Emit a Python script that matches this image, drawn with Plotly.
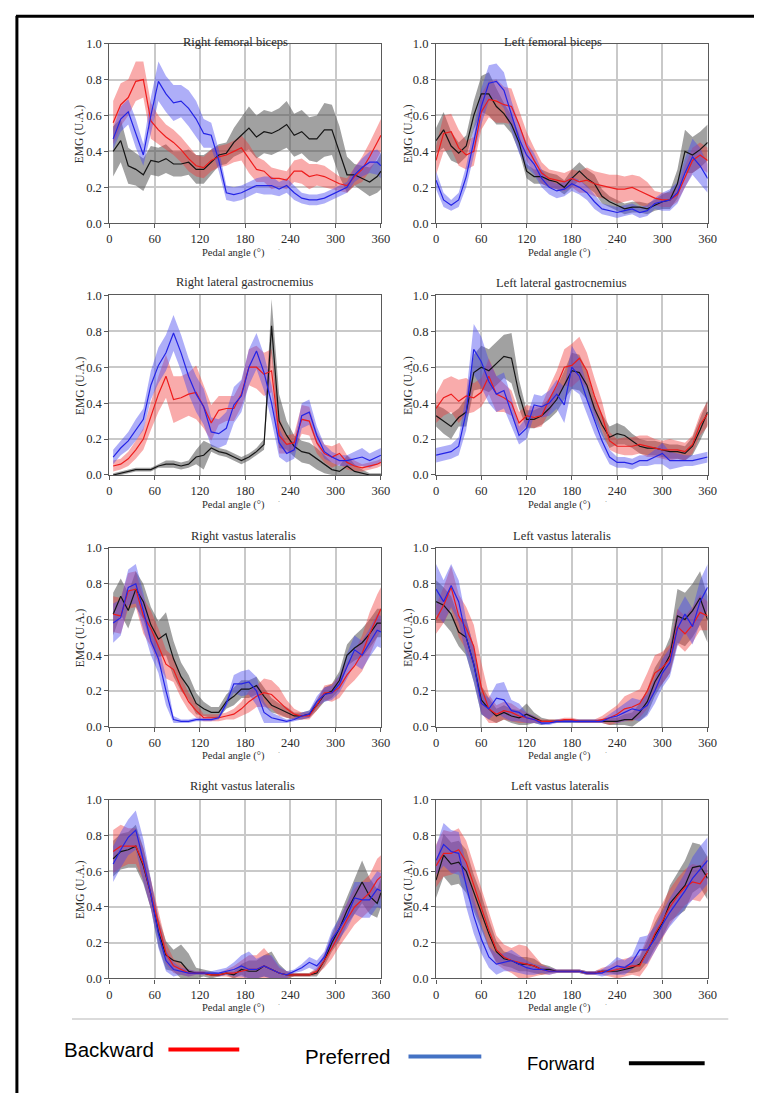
import plotly.graph_objects as go

# ---------------- data ----------------
X_RIGHT = [5, 15, 25, 35, 45, 55, 65, 75, 85, 95, 105, 115, 125, 135, 145, 155, 165, 175, 185,
           195, 205, 215, 225, 235, 245, 255, 265, 275, 285, 295, 305, 315, 325, 335, 345, 355, 360]
X_LEFT = [0, 10, 20, 30, 40, 50, 60, 70, 80, 90, 100, 110, 120, 130, 140, 150, 160, 170, 180,
          190, 200, 210, 220, 230, 240, 250, 260, 270, 280, 290, 300, 310, 320, 330, 340, 350, 360]

TITLES = ["Right femoral biceps", "Left femoral biceps",
          "Right lateral gastrocnemius", "Left lateral gastrocnemius",
          "Right vastus lateralis", "Left vastus lateralis",
          "Right vastus lateralis", "Left vastus lateralis"]

X_TICKS = [0, 60, 120, 180, 240, 300, 360]
Y_TICKS = [0.0, 0.2, 0.4, 0.6, 0.8, 1.0]

# Panel 1: Right femoral biceps
RFB_BACK = [0.56, 0.66, 0.70, 0.79, 0.80, 0.57, 0.52, 0.48, 0.45, 0.41, 0.36, 0.32, 0.31, 0.35, 0.37, 0.38, 0.40, 0.42, 0.36,
            0.30, 0.29, 0.25, 0.25, 0.24, 0.29, 0.29, 0.26, 0.27, 0.26, 0.24, 0.22, 0.21, 0.26, 0.30, 0.37, 0.45, 0.49]
RFB_BACK_SD = [0.12, 0.12, 0.10, 0.11, 0.10, 0.10, 0.08, 0.07, 0.07, 0.07, 0.07, 0.06, 0.06, 0.06, 0.06, 0.06, 0.06, 0.07, 0.08,
               0.07, 0.06, 0.06, 0.05, 0.05, 0.06, 0.07, 0.07, 0.06, 0.06, 0.05, 0.04, 0.04, 0.05, 0.07, 0.08, 0.09, 0.09]
RFB_PREF = [0.47, 0.58, 0.62, 0.50, 0.38, 0.60, 0.79, 0.72, 0.67, 0.68, 0.64, 0.58, 0.50, 0.49, 0.35, 0.17, 0.16, 0.17, 0.19,
            0.21, 0.21, 0.21, 0.19, 0.21, 0.17, 0.14, 0.13, 0.13, 0.14, 0.16, 0.18, 0.20, 0.27, 0.31, 0.34, 0.34, 0.32]
RFB_PREF_SD = [0.06, 0.07, 0.07, 0.08, 0.06, 0.10, 0.11, 0.10, 0.10, 0.09, 0.10, 0.10, 0.08, 0.07, 0.06, 0.04, 0.04, 0.04, 0.04,
               0.04, 0.05, 0.05, 0.04, 0.04, 0.04, 0.03, 0.03, 0.03, 0.03, 0.03, 0.03, 0.03, 0.04, 0.05, 0.06, 0.07, 0.07]
RFB_FWD = [0.40, 0.46, 0.32, 0.30, 0.27, 0.35, 0.34, 0.36, 0.33, 0.33, 0.34, 0.30, 0.30, 0.34, 0.38, 0.39, 0.45, 0.49, 0.53,
           0.48, 0.51, 0.50, 0.52, 0.55, 0.49, 0.51, 0.47, 0.47, 0.52, 0.52, 0.40, 0.27, 0.27, 0.25, 0.23, 0.26, 0.29]
RFB_FWD_SD = [0.14, 0.12, 0.10, 0.09, 0.09, 0.08, 0.08, 0.08, 0.07, 0.07, 0.07, 0.08, 0.08, 0.07, 0.06, 0.06, 0.08, 0.10, 0.12,
              0.12, 0.12, 0.12, 0.12, 0.13, 0.12, 0.12, 0.12, 0.13, 0.15, 0.14, 0.14, 0.10, 0.06, 0.07, 0.08, 0.09, 0.10]

# Panel 2: Left femoral biceps
LFB_BACK = [0.35, 0.50, 0.51, 0.42, 0.38, 0.40, 0.62, 0.69, 0.68, 0.66, 0.65, 0.55, 0.43, 0.35, 0.28, 0.25, 0.24, 0.23, 0.25,
            0.23, 0.24, 0.22, 0.21, 0.20, 0.19, 0.19, 0.20, 0.18, 0.16, 0.14, 0.13, 0.13, 0.16, 0.26, 0.35, 0.38, 0.35]
LFB_BACK_SD = [0.08, 0.10, 0.10, 0.10, 0.08, 0.08, 0.10, 0.10, 0.12, 0.10, 0.10, 0.08, 0.08, 0.07, 0.06, 0.05, 0.05, 0.05, 0.05,
               0.06, 0.07, 0.07, 0.07, 0.07, 0.08, 0.07, 0.07, 0.08, 0.07, 0.04, 0.04, 0.04, 0.04, 0.06, 0.07, 0.07, 0.07]
LFB_PREF = [0.24, 0.13, 0.10, 0.13, 0.26, 0.45, 0.65, 0.78, 0.79, 0.74, 0.60, 0.47, 0.38, 0.33, 0.25, 0.20, 0.18, 0.19, 0.22,
            0.20, 0.17, 0.12, 0.08, 0.07, 0.06, 0.07, 0.08, 0.06, 0.07, 0.11, 0.12, 0.13, 0.17, 0.28, 0.37, 0.32, 0.25]
LFB_PREF_SD = [0.05, 0.04, 0.03, 0.04, 0.06, 0.08, 0.10, 0.10, 0.10, 0.10, 0.08, 0.08, 0.07, 0.06, 0.05, 0.04, 0.04, 0.04, 0.04,
               0.04, 0.04, 0.04, 0.03, 0.03, 0.03, 0.03, 0.03, 0.03, 0.03, 0.03, 0.05, 0.06, 0.06, 0.08, 0.10, 0.10, 0.08]
LFB_FWD = [0.46, 0.52, 0.43, 0.39, 0.43, 0.60, 0.72, 0.72, 0.65, 0.61, 0.55, 0.45, 0.29, 0.26, 0.26, 0.24, 0.23, 0.20, 0.25,
           0.29, 0.25, 0.22, 0.15, 0.12, 0.10, 0.08, 0.09, 0.09, 0.08, 0.10, 0.12, 0.13, 0.22, 0.40, 0.38, 0.41, 0.45]
LFB_FWD_SD = [0.07, 0.10, 0.08, 0.06, 0.06, 0.08, 0.10, 0.12, 0.10, 0.06, 0.05, 0.05, 0.04, 0.04, 0.04, 0.04, 0.04, 0.04, 0.05,
              0.05, 0.05, 0.05, 0.04, 0.03, 0.03, 0.03, 0.03, 0.03, 0.03, 0.03, 0.04, 0.05, 0.08, 0.12, 0.10, 0.10, 0.10]

# Panel 3: Right lateral gastrocnemius
RLG_BACK = [0.05, 0.06, 0.09, 0.14, 0.20, 0.33, 0.45, 0.55, 0.42, 0.43, 0.45, 0.46, 0.38, 0.29, 0.36, 0.37, 0.37, 0.45, 0.60,
            0.60, 0.56, 0.58, 0.22, 0.17, 0.18, 0.31, 0.30, 0.18, 0.12, 0.10, 0.12, 0.07, 0.05, 0.04, 0.05, 0.06, 0.07]
RLG_BACK_SD = [0.03, 0.03, 0.04, 0.05, 0.06, 0.08, 0.10, 0.12, 0.13, 0.12, 0.12, 0.15, 0.12, 0.10, 0.08, 0.07, 0.07, 0.07, 0.10,
               0.12, 0.12, 0.12, 0.10, 0.05, 0.05, 0.08, 0.08, 0.06, 0.05, 0.06, 0.06, 0.04, 0.03, 0.02, 0.02, 0.02, 0.02]
RLG_PREF = [0.10, 0.15, 0.19, 0.25, 0.31, 0.50, 0.61, 0.68, 0.79, 0.68, 0.55, 0.45, 0.38, 0.24, 0.23, 0.26, 0.39, 0.44, 0.60,
            0.69, 0.57, 0.40, 0.18, 0.12, 0.14, 0.33, 0.35, 0.22, 0.13, 0.10, 0.08, 0.08, 0.09, 0.10, 0.08, 0.10, 0.11]
RLG_PREF_SD = [0.04, 0.04, 0.05, 0.06, 0.06, 0.08, 0.10, 0.10, 0.10, 0.10, 0.10, 0.10, 0.10, 0.08, 0.08, 0.09, 0.10, 0.09, 0.10,
               0.10, 0.10, 0.10, 0.08, 0.05, 0.05, 0.07, 0.07, 0.05, 0.04, 0.03, 0.03, 0.03, 0.04, 0.05, 0.04, 0.04, 0.04]
RLG_FWD = [0.00, 0.01, 0.02, 0.03, 0.03, 0.03, 0.05, 0.06, 0.06, 0.05, 0.06, 0.10, 0.11, 0.15, 0.13, 0.12, 0.10, 0.08, 0.10,
           0.13, 0.17, 0.83, 0.30, 0.22, 0.16, 0.13, 0.12, 0.09, 0.06, 0.03, 0.02, 0.05, 0.02, 0.01, 0.00, 0.00, 0.00]
RLG_FWD_SD = [0.01, 0.01, 0.01, 0.01, 0.01, 0.01, 0.01, 0.02, 0.02, 0.02, 0.02, 0.04, 0.08, 0.02, 0.02, 0.02, 0.02, 0.02, 0.02,
              0.02, 0.03, 0.15, 0.15, 0.08, 0.06, 0.06, 0.06, 0.06, 0.05, 0.04, 0.03, 0.06, 0.04, 0.02, 0.01, 0.01, 0.01]

# Panel 4: Left lateral gastrocnemius
LLG_BACK = [0.37, 0.43, 0.45, 0.41, 0.44, 0.43, 0.46, 0.55, 0.45, 0.43, 0.40, 0.29, 0.33, 0.32, 0.33, 0.42, 0.50, 0.60, 0.61,
            0.65, 0.58, 0.44, 0.33, 0.19, 0.16, 0.16, 0.16, 0.17, 0.16, 0.15, 0.14, 0.14, 0.14, 0.13, 0.17, 0.28, 0.34]
LLG_BACK_SD = [0.08, 0.10, 0.10, 0.12, 0.10, 0.08, 0.08, 0.10, 0.10, 0.08, 0.07, 0.06, 0.06, 0.06, 0.06, 0.07, 0.08, 0.10, 0.12,
               0.12, 0.10, 0.10, 0.08, 0.05, 0.04, 0.05, 0.05, 0.05, 0.06, 0.05, 0.05, 0.06, 0.05, 0.05, 0.05, 0.06, 0.07]
LLG_PREF = [0.11, 0.12, 0.13, 0.16, 0.35, 0.70, 0.63, 0.52, 0.45, 0.47, 0.35, 0.22, 0.26, 0.39, 0.38, 0.40, 0.45, 0.39, 0.60,
            0.55, 0.42, 0.30, 0.19, 0.10, 0.07, 0.07, 0.06, 0.08, 0.08, 0.10, 0.12, 0.08, 0.08, 0.08, 0.08, 0.09, 0.10]
LLG_PREF_SD = [0.04, 0.04, 0.04, 0.05, 0.10, 0.14, 0.14, 0.12, 0.10, 0.10, 0.08, 0.05, 0.06, 0.06, 0.06, 0.07, 0.08, 0.10, 0.12,
               0.10, 0.08, 0.07, 0.05, 0.04, 0.03, 0.03, 0.03, 0.03, 0.03, 0.04, 0.06, 0.05, 0.04, 0.03, 0.03, 0.03, 0.03]
LLG_FWD = [0.33, 0.30, 0.27, 0.32, 0.35, 0.57, 0.60, 0.58, 0.62, 0.66, 0.65, 0.45, 0.31, 0.31, 0.33, 0.37, 0.42, 0.50, 0.58,
           0.57, 0.50, 0.37, 0.28, 0.21, 0.23, 0.22, 0.19, 0.16, 0.15, 0.15, 0.14, 0.13, 0.13, 0.12, 0.16, 0.25, 0.35]
LLG_FWD_SD = [0.06, 0.07, 0.07, 0.05, 0.08, 0.10, 0.12, 0.12, 0.12, 0.12, 0.14, 0.08, 0.05, 0.05, 0.05, 0.06, 0.07, 0.08, 0.10,
              0.10, 0.08, 0.06, 0.06, 0.06, 0.06, 0.05, 0.04, 0.04, 0.04, 0.04, 0.04, 0.04, 0.04, 0.04, 0.05, 0.06, 0.07]

# Panel 5: Right vastus lateralis (row 3)
RVL1_BACK = [0.63, 0.62, 0.76, 0.77, 0.62, 0.55, 0.45, 0.35, 0.32, 0.22, 0.14, 0.09, 0.05, 0.05, 0.05, 0.06, 0.07, 0.10, 0.14,
             0.17, 0.19, 0.18, 0.14, 0.10, 0.07, 0.06, 0.06, 0.12, 0.19, 0.19, 0.22, 0.29, 0.34, 0.41, 0.52, 0.62, 0.66]
RVL1_BACK_SD = [0.10, 0.10, 0.10, 0.10, 0.10, 0.10, 0.10, 0.08, 0.07, 0.06, 0.05, 0.04, 0.02, 0.02, 0.02, 0.02, 0.03, 0.04, 0.06,
                0.06, 0.08, 0.08, 0.08, 0.05, 0.03, 0.02, 0.02, 0.03, 0.04, 0.05, 0.06, 0.07, 0.08, 0.10, 0.12, 0.12, 0.12]
RVL1_PREF = [0.58, 0.61, 0.78, 0.80, 0.65, 0.48, 0.38, 0.20, 0.04, 0.03, 0.03, 0.04, 0.04, 0.04, 0.05, 0.13, 0.24, 0.24, 0.25,
             0.20, 0.08, 0.05, 0.04, 0.03, 0.04, 0.06, 0.07, 0.14, 0.18, 0.19, 0.24, 0.34, 0.43, 0.40, 0.47, 0.54, 0.53]
RVL1_PREF_SD = [0.11, 0.10, 0.10, 0.11, 0.10, 0.08, 0.08, 0.08, 0.02, 0.01, 0.01, 0.01, 0.01, 0.01, 0.01, 0.02, 0.05, 0.07, 0.07,
                0.08, 0.06, 0.03, 0.02, 0.01, 0.01, 0.02, 0.02, 0.03, 0.04, 0.04, 0.05, 0.07, 0.08, 0.08, 0.08, 0.09, 0.09]
RVL1_FWD = [0.63, 0.73, 0.65, 0.77, 0.70, 0.57, 0.49, 0.52, 0.38, 0.28, 0.22, 0.13, 0.10, 0.08, 0.08, 0.14, 0.17, 0.21, 0.21,
            0.23, 0.17, 0.12, 0.10, 0.08, 0.06, 0.06, 0.07, 0.12, 0.18, 0.20, 0.26, 0.40, 0.44, 0.47, 0.52, 0.58, 0.58]
RVL1_FWD_SD = [0.12, 0.10, 0.10, 0.10, 0.10, 0.10, 0.10, 0.12, 0.10, 0.08, 0.07, 0.06, 0.04, 0.03, 0.03, 0.04, 0.05, 0.05, 0.05,
               0.05, 0.05, 0.04, 0.03, 0.03, 0.02, 0.02, 0.02, 0.03, 0.04, 0.04, 0.05, 0.06, 0.07, 0.08, 0.08, 0.08, 0.08]

# Panel 6: Left vastus lateralis (row 3)
LVL1_BACK = [0.60, 0.68, 0.78, 0.62, 0.55, 0.45, 0.22, 0.10, 0.07, 0.09, 0.08, 0.06, 0.05, 0.04, 0.03, 0.03, 0.03, 0.04, 0.04,
             0.03, 0.03, 0.03, 0.04, 0.05, 0.07, 0.10, 0.11, 0.13, 0.20, 0.30, 0.33, 0.38, 0.56, 0.52, 0.57, 0.64, 0.62]
LVL1_BACK_SD = [0.08, 0.10, 0.12, 0.12, 0.12, 0.12, 0.14, 0.08, 0.05, 0.05, 0.05, 0.04, 0.03, 0.02, 0.01, 0.01, 0.01, 0.01, 0.01,
                0.01, 0.01, 0.01, 0.02, 0.04, 0.05, 0.07, 0.08, 0.08, 0.10, 0.10, 0.09, 0.08, 0.10, 0.10, 0.10, 0.10, 0.08]
LVL1_PREF = [0.77, 0.70, 0.79, 0.70, 0.50, 0.35, 0.13, 0.10, 0.16, 0.15, 0.09, 0.08, 0.05, 0.04, 0.02, 0.02, 0.03, 0.03, 0.03,
             0.03, 0.03, 0.03, 0.03, 0.05, 0.06, 0.08, 0.10, 0.09, 0.12, 0.20, 0.30, 0.36, 0.55, 0.63, 0.56, 0.70, 0.78]
LVL1_PREF_SD = [0.14, 0.12, 0.12, 0.12, 0.10, 0.10, 0.06, 0.06, 0.08, 0.10, 0.06, 0.05, 0.03, 0.02, 0.01, 0.01, 0.01, 0.01, 0.01,
                0.01, 0.01, 0.01, 0.01, 0.02, 0.04, 0.05, 0.06, 0.06, 0.06, 0.07, 0.08, 0.08, 0.10, 0.10, 0.10, 0.12, 0.13]
LVL1_FWD = [0.70, 0.68, 0.63, 0.53, 0.50, 0.35, 0.15, 0.10, 0.06, 0.08, 0.06, 0.05, 0.07, 0.05, 0.03, 0.03, 0.03, 0.03, 0.03,
            0.03, 0.03, 0.03, 0.03, 0.03, 0.03, 0.04, 0.04, 0.08, 0.14, 0.25, 0.32, 0.40, 0.62, 0.60, 0.65, 0.72, 0.60]
LVL1_FWD_SD = [0.12, 0.10, 0.10, 0.08, 0.10, 0.10, 0.08, 0.06, 0.04, 0.04, 0.04, 0.04, 0.06, 0.03, 0.02, 0.01, 0.01, 0.01, 0.01,
               0.01, 0.01, 0.01, 0.01, 0.02, 0.02, 0.03, 0.04, 0.05, 0.07, 0.08, 0.08, 0.10, 0.15, 0.15, 0.15, 0.15, 0.13]

# Panel 7: Right vastus lateralis (row 4)
RVL2_BACK = [0.71, 0.74, 0.74, 0.74, 0.64, 0.47, 0.30, 0.14, 0.07, 0.05, 0.03, 0.03, 0.03, 0.02, 0.02, 0.03, 0.03, 0.04, 0.05,
             0.05, 0.07, 0.05, 0.03, 0.02, 0.02, 0.02, 0.02, 0.04, 0.10, 0.17, 0.25, 0.33, 0.40, 0.44, 0.48, 0.55, 0.57]
RVL2_BACK_SD = [0.12, 0.12, 0.10, 0.10, 0.09, 0.08, 0.07, 0.06, 0.04, 0.03, 0.02, 0.01, 0.01, 0.01, 0.01, 0.02, 0.04, 0.06, 0.08,
                0.08, 0.10, 0.07, 0.03, 0.02, 0.01, 0.01, 0.01, 0.02, 0.04, 0.06, 0.07, 0.09, 0.10, 0.10, 0.10, 0.12, 0.12]
RVL2_PREF = [0.64, 0.72, 0.79, 0.83, 0.66, 0.47, 0.25, 0.10, 0.05, 0.04, 0.03, 0.03, 0.03, 0.03, 0.03, 0.04, 0.05, 0.07, 0.05,
             0.05, 0.07, 0.05, 0.03, 0.02, 0.04, 0.06, 0.09, 0.07, 0.12, 0.22, 0.28, 0.35, 0.45, 0.44, 0.44, 0.50, 0.49]
RVL2_PREF_SD = [0.10, 0.10, 0.10, 0.11, 0.12, 0.08, 0.08, 0.06, 0.04, 0.02, 0.02, 0.01, 0.01, 0.01, 0.02, 0.02, 0.04, 0.06, 0.10,
                0.06, 0.06, 0.08, 0.04, 0.02, 0.01, 0.02, 0.03, 0.03, 0.03, 0.05, 0.06, 0.07, 0.09, 0.10, 0.10, 0.10, 0.10]
RVL2_FWD = [0.67, 0.71, 0.72, 0.74, 0.63, 0.47, 0.26, 0.13, 0.10, 0.09, 0.04, 0.03, 0.03, 0.02, 0.02, 0.03, 0.02, 0.05, 0.04,
            0.04, 0.07, 0.05, 0.03, 0.02, 0.02, 0.02, 0.02, 0.03, 0.10, 0.20, 0.28, 0.38, 0.46, 0.54, 0.46, 0.42, 0.48]
RVL2_FWD_SD = [0.10, 0.10, 0.10, 0.12, 0.10, 0.08, 0.08, 0.08, 0.06, 0.10, 0.10, 0.03, 0.02, 0.02, 0.01, 0.01, 0.02, 0.03, 0.06,
               0.06, 0.06, 0.10, 0.05, 0.02, 0.01, 0.01, 0.01, 0.02, 0.03, 0.05, 0.07, 0.08, 0.10, 0.12, 0.10, 0.08, 0.08]

# Panel 8: Left vastus lateralis (row 4)
LVL2_BACK = [0.63, 0.70, 0.70, 0.72, 0.65, 0.52, 0.40, 0.27, 0.16, 0.12, 0.10, 0.09, 0.08, 0.07, 0.05, 0.04, 0.04, 0.04, 0.04,
             0.04, 0.03, 0.03, 0.04, 0.04, 0.05, 0.06, 0.07, 0.07, 0.15, 0.25, 0.32, 0.40, 0.46, 0.51, 0.54, 0.53, 0.59]
LVL2_BACK_SD = [0.12, 0.13, 0.12, 0.12, 0.12, 0.12, 0.10, 0.10, 0.08, 0.07, 0.07, 0.10, 0.10, 0.06, 0.03, 0.02, 0.01, 0.01, 0.01,
                0.01, 0.01, 0.01, 0.02, 0.03, 0.05, 0.05, 0.05, 0.06, 0.08, 0.10, 0.10, 0.10, 0.10, 0.10, 0.10, 0.10, 0.10]
LVL2_PREF = [0.66, 0.75, 0.71, 0.70, 0.52, 0.35, 0.22, 0.12, 0.08, 0.09, 0.10, 0.08, 0.06, 0.05, 0.05, 0.04, 0.04, 0.04, 0.04,
             0.04, 0.03, 0.03, 0.03, 0.05, 0.07, 0.06, 0.09, 0.16, 0.16, 0.22, 0.30, 0.37, 0.43, 0.49, 0.56, 0.61, 0.66]
LVL2_PREF_SD = [0.08, 0.12, 0.12, 0.12, 0.12, 0.10, 0.08, 0.06, 0.06, 0.05, 0.06, 0.05, 0.04, 0.03, 0.02, 0.02, 0.01, 0.01, 0.01,
                0.01, 0.01, 0.01, 0.02, 0.03, 0.05, 0.04, 0.04, 0.07, 0.08, 0.07, 0.07, 0.08, 0.09, 0.10, 0.12, 0.13, 0.13]
LVL2_FWD = [0.55, 0.69, 0.64, 0.65, 0.60, 0.48, 0.37, 0.25, 0.15, 0.11, 0.10, 0.08, 0.08, 0.07, 0.05, 0.05, 0.04, 0.04, 0.04,
            0.04, 0.03, 0.03, 0.04, 0.04, 0.04, 0.05, 0.06, 0.08, 0.15, 0.24, 0.31, 0.42, 0.47, 0.52, 0.62, 0.63, 0.56]
LVL2_FWD_SD = [0.10, 0.12, 0.12, 0.12, 0.12, 0.10, 0.10, 0.08, 0.06, 0.04, 0.04, 0.04, 0.04, 0.04, 0.03, 0.02, 0.01, 0.01, 0.01,
               0.01, 0.01, 0.01, 0.01, 0.01, 0.02, 0.02, 0.03, 0.04, 0.06, 0.07, 0.08, 0.10, 0.12, 0.14, 0.14, 0.12, 0.12]

PANEL_X = [X_RIGHT, X_LEFT, X_RIGHT, X_LEFT, X_RIGHT, X_LEFT, X_RIGHT, X_LEFT]
PANEL_SERIES = [
    [(RFB_FWD, RFB_FWD_SD), (RFB_BACK, RFB_BACK_SD), (RFB_PREF, RFB_PREF_SD)],
    [(LFB_FWD, LFB_FWD_SD), (LFB_BACK, LFB_BACK_SD), (LFB_PREF, LFB_PREF_SD)],
    [(RLG_FWD, RLG_FWD_SD), (RLG_BACK, RLG_BACK_SD), (RLG_PREF, RLG_PREF_SD)],
    [(LLG_FWD, LLG_FWD_SD), (LLG_BACK, LLG_BACK_SD), (LLG_PREF, LLG_PREF_SD)],
    [(RVL1_FWD, RVL1_FWD_SD), (RVL1_BACK, RVL1_BACK_SD), (RVL1_PREF, RVL1_PREF_SD)],
    [(LVL1_FWD, LVL1_FWD_SD), (LVL1_BACK, LVL1_BACK_SD), (LVL1_PREF, LVL1_PREF_SD)],
    [(RVL2_FWD, RVL2_FWD_SD), (RVL2_BACK, RVL2_BACK_SD), (RVL2_PREF, RVL2_PREF_SD)],
    [(LVL2_FWD, LVL2_FWD_SD), (LVL2_BACK, LVL2_BACK_SD), (LVL2_PREF, LVL2_PREF_SD)],
]

# ---------------- style ----------------
PAGE_W, PAGE_H = 762, 1101
BODY_MARGIN = 8                       # default page margin around the plot div
W, H = PAGE_W - 2 * BODY_MARGIN, PAGE_H - 2 * BODY_MARGIN
LINE_COLORS = ["#151515", "#ee1c1c", "#2424e6"]          # Forward, Backward, Preferred
BAND_COLORS = ["rgba(75,75,75,0.52)", "rgba(240,55,55,0.42)", "rgba(70,70,240,0.44)"]
SERIF = "Liberation Serif, DejaVu Serif, serif"
TXT = "#2b2b2b"

# positions below are page pixels (reference picture coordinates)
COLS = [(108, 384), (440, 716)]
ROWS = [(37, 219), (292, 474), (548, 729), (803, 984)]
TITLE_POS = [(236, 35), (559, 35), (246, 278), (567, 280), (244, 536), (568, 536), (243, 789), (566, 789)]
YTITLE_X = [78, 412]
XTITLE_X = [234, 565]
DOT_X = [283, 616]


def fx(p):
    return (p - BODY_MARGIN) / W


def fy(p):
    return 1 - (p - BODY_MARGIN) / H


fig = go.Figure()
annotations = []
shapes = []

for i in range(8):
    r, c = divmod(i, 2)
    n = "" if i == 0 else str(i + 1)
    xs = PANEL_X[i]
    for k, (mean, sd) in enumerate(PANEL_SERIES[i]):
        upper = [m + s for m, s in zip(mean, sd)]
        lower = [max(m - s, 0.0) for m, s in zip(mean, sd)]
        fig.add_trace(go.Scatter(
            x=xs + xs[::-1], y=upper + lower[::-1], fill="toself",
            fillcolor=BAND_COLORS[k], line=dict(width=0), mode="lines",
            hoverinfo="skip", showlegend=False, xaxis="x" + n, yaxis="y" + n))
    for k, (mean, sd) in enumerate(PANEL_SERIES[i]):
        fig.add_trace(go.Scatter(
            x=xs, y=mean, mode="lines", line=dict(color=LINE_COLORS[k], width=1.2),
            showlegend=False, xaxis="x" + n, yaxis="y" + n))

    x0, x1 = COLS[c]
    y0, y1 = ROWS[r]
    axis_common = dict(
        showline=True, linecolor="#5a5a5a", linewidth=1.2, mirror=True,
        ticks="outside", ticklen=4, tickcolor="#5a5a5a", tickwidth=1,
        showgrid=True, gridcolor="#c9c9c9", gridwidth=1.5, zeroline=False,
        tickfont=dict(family=SERIF, size=12.5, color=TXT), fixedrange=True)
    fig.layout["xaxis" + n] = dict(
        domain=[fx(x0), fx(x1)], anchor="y" + n, range=[0, 360],
        tickvals=X_TICKS, ticktext=[str(v) for v in X_TICKS], **axis_common)
    fig.layout["yaxis" + n] = dict(
        domain=[fy(y1), fy(y0)], anchor="x" + n, range=[0, 1],
        tickvals=Y_TICKS, ticktext=["%.1f" % v for v in Y_TICKS], **axis_common)

    tx, ty = TITLE_POS[i]
    annotations.append(dict(text=TITLES[i], x=fx(tx), y=fy(ty), xref="paper", yref="paper",
                            showarrow=False, xanchor="center", yanchor="middle",
                            font=dict(family=SERIF, size=12.5, color=TXT)))
    annotations.append(dict(text="EMG (U.A.)", x=fx(YTITLE_X[c]), y=fy((y0 + y1) / 2),
                            xref="paper", yref="paper", showarrow=False, textangle=-90,
                            xanchor="center", yanchor="middle",
                            font=dict(family=SERIF, size=11.5, color=TXT)))
    annotations.append(dict(text="Pedal angle (°)", x=fx(XTITLE_X[c]), y=fy(y1 + 30),
                            xref="paper", yref="paper", showarrow=False,
                            xanchor="center", yanchor="middle",
                            font=dict(family=SERIF, size=10.5, color=TXT)))
    annotations.append(dict(text="·", x=fx(DOT_X[c] - 3), y=fy(y1 + 27),
                            xref="paper", yref="paper", showarrow=False,
                            xanchor="center", yanchor="middle",
                            font=dict(family=SERIF, size=6, color="#444")))

# separator line
shapes.append(dict(type="line", xref="paper", yref="paper", x0=fx(70), x1=fx(737),
                   y0=fy(1025), y1=fy(1025), line=dict(color="#cfcfcf", width=1.5)))
# outer frame (left and top edges)
shapes.append(dict(type="line", xref="paper", yref="paper", x0=fx(14), x1=fx(14),
                   y0=fy(9), y1=fy(PAGE_H + 5), line=dict(color="black", width=3)))
shapes.append(dict(type="line", xref="paper", yref="paper", x0=fx(13), x1=fx(PAGE_W + 5),
                   y0=fy(9.2), y1=fy(9.2), line=dict(color="black", width=3)))

# legend
LEGEND_ITEMS = [("Backward", "#ff0000", 60, 168, 240, 1056, 20.5),
                ("Preferred", "#4472c4", 305, 412, 486, 1063, 20.5),
                ("Forward", "#000000", 530, 636, 713, 1070, 18.5)]
for label, col, tx, lx0, lx1, yy, fs in LEGEND_ITEMS:
    annotations.append(dict(text=label, x=fx(tx), y=fy(yy), xref="paper", yref="paper",
                            showarrow=False, xanchor="left", yanchor="middle",
                            font=dict(family="Liberation Sans, Arial, sans-serif", size=fs, color="black")))
    shapes.append(dict(type="line", xref="paper", yref="paper", x0=fx(lx0), x1=fx(lx1),
                       y0=fy(yy), y1=fy(yy), line=dict(color=col, width=4)))

fig.update_layout(width=W, height=H, margin=dict(l=0, r=0, t=0, b=0),
                  paper_bgcolor="white", plot_bgcolor="white",
                  annotations=annotations, shapes=shapes, showlegend=False)

fig.write_html("out.html", config={"displayModeBar": False, "responsive": False})
